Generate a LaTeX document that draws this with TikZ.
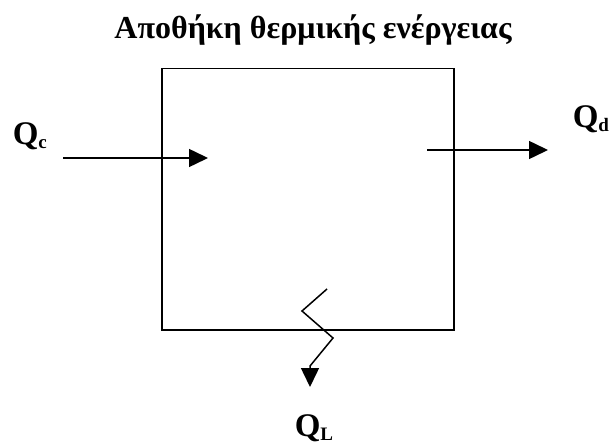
\documentclass[tikz,border=0pt]{standalone}
\usepackage{fontspec}
\setmainfont{Liberation Serif}
\usepackage{tikz}
\usetikzlibrary{positioning,arrows.meta}
\newcommand{\heatq}[1]{Q\raisebox{-4pt}{\fontsize{19}{19}\selectfont #1}}

\begin{document}
\begin{tikzpicture}[x=1pt, y=-1pt, line width=1.5pt,
  flow/.style={-{Triangle[length=19pt,width=18pt]}},
  lbl/.style={font=\fontsize{33}{33}\selectfont\bfseries, inner sep=0pt, anchor=base west}]
  \useasboundingbox (0,0) rectangle (615,446);
  \node[font=\fontsize{32}{32}\selectfont\bfseries, inner sep=0pt, anchor=base] (title) at (313,39) {Αποθήκη θερμικής ενέργειας};
  \node[draw, minimum width=292pt, minimum height=261pt, inner sep=0pt, anchor=north west] (store) at (161,68) {};
  \node[lbl] (qc) at (12,145) {\heatq{c}};
  \node[lbl] (qd) at (572,128) {\heatq{d}};
  \node[lbl] (ql) at (294,436) {\heatq{L}};
  \coordinate (cin) at (63,158);
  \coordinate (cinend) at (208,158);
  \coordinate (dout) at (427,150);
  \coordinate (doutend) at (548,150);
  \coordinate (lossa) at (327,289);
  \coordinate (lossb) at (302,311);
  \coordinate (lossc) at (333,338);
  \coordinate (lossd) at (310,366);
  \coordinate (lossend) at (310,387);
  \draw[flow] (cin) -- (cinend);
  \draw[flow] (dout) -- (doutend);
  \draw[flow] (lossa) -- (lossb) -- (lossc) -- (lossd) -- (lossend);
\end{tikzpicture}
\end{document}
